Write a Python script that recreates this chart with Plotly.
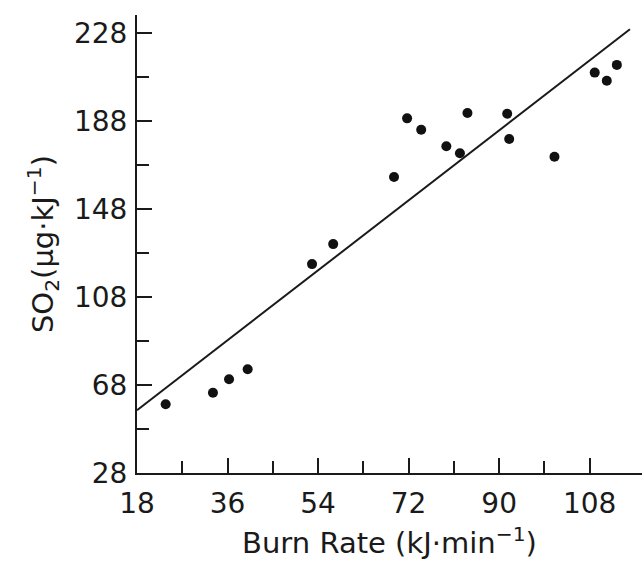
import plotly.graph_objects as go

# Data
burn_rate = [23.7, 33.1, 36.3, 40.0, 52.8, 57.0, 69.1, 71.7, 74.5, 79.5, 82.2,
             83.7, 91.6, 92.0, 101.0, 109.0, 111.4, 113.4]
so2 = [59.3, 64.5, 70.6, 75.2, 123.0, 132.1, 162.6, 189.3, 184.1, 176.6, 173.4,
       191.7, 191.4, 179.9, 171.8, 210.1, 206.4, 213.6]

# Fitted line
fit_slope = 1.768
fit_intercept = 24.7
fit_x = [18, 116]
fit_y = [fit_intercept + fit_slope * x for x in fit_x]

x_ticks = [18, 36, 54, 72, 90, 108]
x_minor = [27, 45, 63, 81, 99]
y_ticks = [28, 68, 108, 148, 188, 228]
y_minor = [48, 88, 128, 168, 208]

FONT = "DejaVu Sans"
INK = "#1a1a1a"

fig = go.Figure()
fig.add_trace(go.Scatter(x=fit_x, y=fit_y, mode="lines",
                         line=dict(color=INK, width=2), showlegend=False,
                         hoverinfo="skip"))
fig.add_trace(go.Scatter(x=burn_rate, y=so2, mode="markers",
                         marker=dict(color="#111111", size=10), showlegend=False))

fig.update_layout(
    width=642, height=568,
    margin=dict(l=137, r=0, t=15, b=95),
    paper_bgcolor="white", plot_bgcolor="white",
    font=dict(family=FONT, color=INK, size=28),
    xaxis=dict(
        range=[18, 118.4], tickmode="array", tickvals=x_ticks,
        ticktext=[str(v) for v in x_ticks],
        ticks="inside", ticklen=15, tickwidth=2, tickcolor=INK,
        minor=dict(ticks="inside", ticklen=12, tickwidth=2, tickcolor=INK,
                   tickvals=x_minor),
        showline=True, linecolor=INK, linewidth=2,
        showgrid=False, zeroline=False,
        tickfont=dict(size=28), ticklabelstandoff=4,
        title=dict(text="Burn Rate (kJ·min<sup>−1</sup>)", font=dict(size=29), standoff=14),
    ),
    yaxis=dict(
        range=[28, 236.3], tickmode="array", tickvals=y_ticks,
        ticktext=[str(v) for v in y_ticks],
        ticks="inside", ticklen=15, tickwidth=2, tickcolor=INK,
        minor=dict(ticks="inside", ticklen=12, tickwidth=2, tickcolor=INK,
                   tickvals=y_minor),
        showline=True, linecolor=INK, linewidth=2,
        showgrid=False, zeroline=False,
        tickfont=dict(size=28), ticklabelstandoff=2,
        title=dict(text="SO<sub>2</sub>(μg·kJ<sup>−1</sup>)", font=dict(size=29), standoff=12),
    ),
)

fig.write_html("out.html")
